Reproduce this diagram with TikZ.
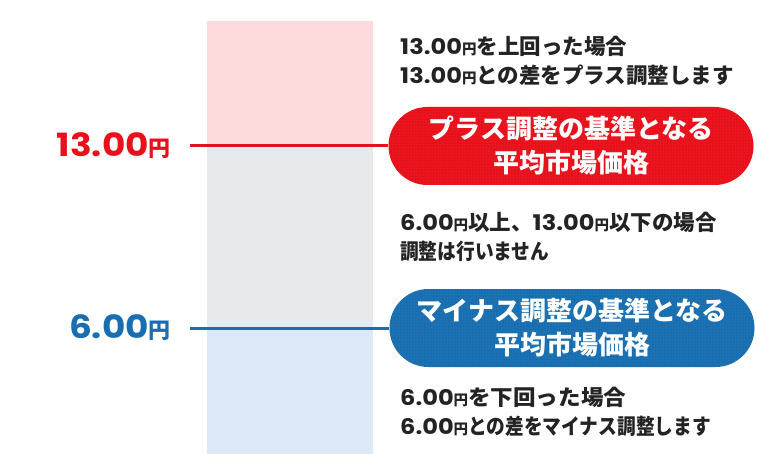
\documentclass[tikz,border=0pt]{standalone}
\usepackage{fontspec}
\setmainfont{Noto Sans CJK JP}
\newfontfamily\jpc{Noto Sans CJK JP}[FakeStretch=0.87]
\newfontfamily\jpw{Noto Sans CJK JP}[FakeStretch=1.05]
\newfontfamily\pop{Poppins}[FakeStretch=1.12]
\usetikzlibrary{shapes.misc,patterns}
\definecolor{jred}{RGB}{232,16,26}
\definecolor{jblue}{RGB}{24,110,176}
\definecolor{jpink}{RGB}{253,219,221}
\definecolor{jgrey}{RGB}{232,233,236}
\definecolor{jlblue}{RGB}{221,233,247}
\definecolor{jtext}{RGB}{35,35,35}
\newcommand\nm[1]{{\pop\bfseries #1}}
\newcommand\yensm{{\rmfamily\bfseries\fontsize{14.5}{14.5}\selectfont 円}}
\newcommand\yenbig{{\bfseries\fontsize{22}{22}\selectfont 円}}
\tikzset{
  pill/.style={rounded rectangle, minimum width=365pt, minimum height=78pt,
    inner sep=0pt, align=center, text=white,
    font=\bfseries\fontsize{26}{34}\selectfont},
  note/.style={anchor=base west, inner sep=0pt, text=jtext,
    font=\bfseries\fontsize{21.5}{24}\selectfont},
  lvl/.style={anchor=east, inner sep=0pt, font=\fontsize{32}{32}\selectfont},
  link/.style={line width=3pt}
}
\begin{document}
\begin{tikzpicture}[x=1pt,y=-1pt]
\useasboundingbox[fill=white] (0,0) rectangle (757,454);
% column
\fill[jpink] (207,21) rectangle (373,145);
\fill[jgrey] (207,145) rectangle (373,327);
\fill[jlblue] (207,327) rectangle (373,454);
% pills
\node[pill, preaction={fill=jred}, pattern=dots, pattern color=jred!80!white] (rp) at (571,146) {プラス調整の基準となる\\平均市場価格};
\node[pill, preaction={fill=jblue}, pattern=dots, pattern color=jblue!80!white] (bp) at (572,328) {マイナス調整の基準となる\\平均市場価格};
% level labels
\node[lvl, text=jred] (rl) at (171,146) {\nm{13.00}\yenbig};
\node[lvl, text=jblue] (bl) at (171,328) {\nm{6.00}\yenbig};
\coordinate (rs) at (190,146);
\coordinate (bs) at (190,328);
\draw[link, jred] (rs) -- (rp.west);
\draw[link, jblue] (bs) -- (bp.west);
% notes
\node[note] (t1) at (400,55) {\nm{13.00}\yensm を上回った場合};
\node[note] (t2) at (400,84) {\nm{13.00}\yensm との差をプラス調整します};
\node[note] (t3) at (400,231) {\nm{6.00}\yensm 以上、\nm{13.00}\yensm 以下の場合};
\node[note] (t4) at (400,260) {\jpc 調整は行いません};
\node[note] (t5) at (400,405) {\nm{6.00}\yensm {\jpw を下回った場合}};
\node[note] (t6) at (400,434) {\nm{6.00}\yensm {\jpc との差をマイナス調整します}};
\end{tikzpicture}
\end{document}
